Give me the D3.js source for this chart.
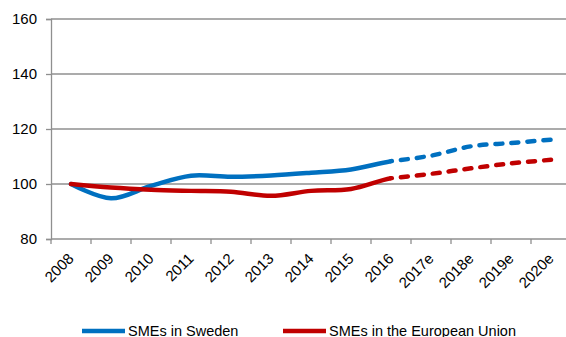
<!DOCTYPE html>
<html>
<head>
<meta charset="utf-8">
<script src="https://cdn.jsdelivr.net/npm/d3@7"></script>
<style>
  html, body { margin: 0; padding: 0; background: #fff; }
  svg { display: block; font-family: "Liberation Sans", Arial, sans-serif; }
</style>
</head>
<body>
<svg id="chart" width="566" height="337"></svg>
<script>
// Index values, 2008 = 100
const years = ["2008", "2009", "2010", "2011", "2012", "2013", "2014", "2015", "2016", "2017e", "2018e", "2019e", "2020e"];
const sweden = [100, 94.8, 99.3, 103.0, 102.6, 103.1, 104.1, 105.3, 108.3, 110.3, 113.7, 114.9, 116.1];
const eu = [100, 98.7, 97.9, 97.5, 97.2, 95.7, 97.5, 98.2, 102.1, 103.7, 105.7, 107.5, 108.8];
const yTicks = [80, 100, 120, 140, 160];
const lastActual = "2016";

const seriesList = [
  { name: "SMEs in Sweden", values: sweden, color: "#0070C0" },
  { name: "SMEs in the European Union", values: eu, color: "#C00000" }
];

const svg = d3.select("#chart");
const W = 566, H = 337;
const margin = { left: 51, top: 19, right: -5, bottom: 98 };
const x0 = margin.left, x1 = W - margin.right;
const y0 = H - margin.bottom, y1 = margin.top;

const x = d3.scaleBand().domain(years).range([x0, x1]);
const y = d3.scaleLinear().domain([80, 160]).range([y0, y1]);
const cx = d => x(d) + x.bandwidth() / 2;

// Horizontal gridlines
svg.append("g")
  .selectAll("line")
  .data(yTicks.filter(t => t > 80))
  .join("line")
  .attr("x1", x0).attr("x2", x1)
  .attr("y1", d => y(d)).attr("y2", d => y(d))
  .attr("stroke", "#8f8f8f").attr("stroke-width", 1.3);

// Y axis
const yAxis = svg.append("g")
  .attr("transform", `translate(${x0},0)`)
  .call(d3.axisLeft(y).tickValues(yTicks).tickSize(5).tickPadding(9));
yAxis.select(".domain").attr("stroke", "#8f8f8f").attr("stroke-width", 1.3);
yAxis.selectAll(".tick line").attr("stroke", "#8f8f8f").attr("stroke-width", 1.3);
yAxis.selectAll("text").attr("font-size", 15).attr("fill", "#000")
  .attr("font-family", "'Liberation Sans', Arial, sans-serif");

// X axis with ticks on category boundaries
const xAxis = svg.append("g").attr("transform", `translate(0,${y0})`);
xAxis.append("line")
  .attr("x1", x0).attr("x2", x1)
  .attr("stroke", "#8f8f8f").attr("stroke-width", 1.3);
xAxis.selectAll("line.tk")
  .data(years)
  .join("line").attr("class", "tk")
  .attr("x1", d => x(d)).attr("x2", d => x(d))
  .attr("y1", 0).attr("y2", 5)
  .attr("stroke", "#8f8f8f").attr("stroke-width", 1.3);
xAxis.selectAll("text")
  .data(years)
  .join("text")
  .attr("transform", d => `translate(${cx(d) - 4},${13}) rotate(-45)`)
  .attr("text-anchor", "end")
  .attr("dy", "0.71em")
  .attr("font-size", 15)
  .text(d => d);

// Lines: solid for actual values, dashed for estimates
const line = d3.line()
  .x((d, i) => cx(years[i]))
  .y(d => y(d))
  .curve(d3.curveCatmullRom.alpha(0.5));

const splitX = cx(lastActual);
const defs = svg.append("defs");
defs.append("clipPath").attr("id", "clipActual")
  .append("rect").attr("x", 0).attr("y", 0).attr("width", splitX).attr("height", H);

const lines = svg.append("g");
seriesList.forEach(s => {
  lines.append("path")
    .attr("d", line(s.values))
    .attr("fill", "none")
    .attr("stroke", s.color)
    .attr("stroke-width", 4.5)
    .attr("stroke-linecap", "round")
    .attr("stroke-linejoin", "round")
    .attr("clip-path", "url(#clipActual)");
  // dashed estimate part, drawn from the last actual year onwards
  const estStart = years.indexOf(lastActual);
  const estLine = d3.line()
    .x((d, i) => cx(years[i + estStart]))
    .y(d => y(d))
    .curve(d3.curveCatmullRom.alpha(0.5));
  lines.append("path")
    .attr("d", estLine(s.values.slice(estStart)))
    .attr("fill", "none")
    .attr("stroke", s.color)
    .attr("stroke-width", 4.5)
    .attr("stroke-linecap", "round")
    .attr("stroke-dasharray", "7 9")
    .attr("stroke-dashoffset", -10);
});

// Legend
const legendItems = [
  { x: 82, s: seriesList[0] },
  { x: 283, s: seriesList[1] }
];
const legend = svg.append("g").attr("transform", "translate(0,331)");
legendItems.forEach(it => {
  legend.append("line")
    .attr("x1", it.x).attr("x2", it.x + 43)
    .attr("y1", 0).attr("y2", 0)
    .attr("stroke", it.s.color).attr("stroke-width", 4.5);
  legend.append("text")
    .attr("x", it.x + 46).attr("y", 0).attr("dy", "0.36em")
    .attr("font-size", 14.5)
    .text(it.s.name);
});
</script>
</body>
</html>
